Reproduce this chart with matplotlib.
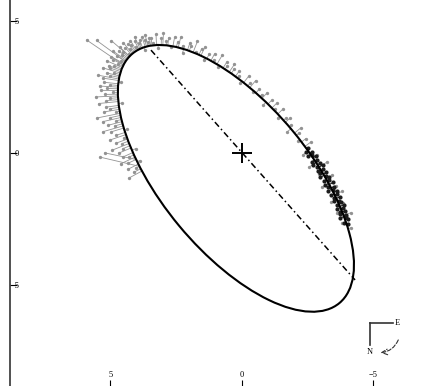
import numpy as np
import matplotlib.pyplot as plt
from matplotlib.patches import Ellipse

# apparent orbit on the sky (x grows to the left)
orbit_center = (0.23, -0.96)
orbit_a = 6.15
orbit_b = 2.81
orbit_angle = 50.2

# line of nodes, both ends on the orbit
node_x = [3.46, -4.30]
node_y = [3.90, -4.81]

# older measurements: place on the orbit (deg) and offset along the normal
obs_t = [-66, -65, -64, -63, -62, -61, -60, -59, -58, -57,
         -56, -55, -54, -53, -52, -51, -50, -49, -48, -47,
         -46, -45, -44, -43, -42, -41, -40, -39, -38, -37,
         -36, -35, -34, -33, -32, -31, -30, -29, -28, -27,
         -26, -25, -24, -23, -22, -21, -20, -19, -18, -17, -16,
         -15, -14, -13, -12, -11, -10, -9, -8, -7, -6,
         -5, -4, -3, -2, -1, 0, 1, 2, 3, 4,
         5, 6, 7, 8, 9, 10, 11, 12, 13, 14, 15,
         16, 17, 19, 20, 22, 23, 25, 26, 28, 29,
         31, 32, 34, 35, 37, 38, 40, 41, 43, 44,
         46, 47, 49, 50, 52, 53, 55, 56, 58, 59,
         61, 62, 64, 65, 67, 68, 70, 71, 73, 74,
         76, 77, 79, 80, 82, 83, 85, 86, 88, 89,
         91, 92, 94, 95,
         97, 99, 102, 104, 106, 108, 111, 113, 115, 118,
         120, 122, 125, 127, 130, 133]
obs_dn = [0.55, 0.3, 0.15, 0.45, -0.1, 0.35, 0.6, 0.2, 0.4, -0.15,
          0.5, 0.3, 0.7, 0.25, 0.45, 0.1, 0.65, 0.35, -0.1, 0.5,
          0.8, 0.3, 0.55, 0.2, 0.7, 0.4, 0.9, 0.15, 0.6, 0.35,
          0.5, -0.15, 0.75, 0.45, 0.3, 0.85, 0.5, 0.2, 0.65, 0.4,
          0.7, 0.3, 0.55, -0.1, 0.6, 0.8, 0.35, 0.5, 0.25, 0.7, 0.45,
          0.5, 0.3, 0.65, 0.2, 0.45, 0.55, 0.15, 0.4, 0.6, 0.25,
          0.45, 0.3, 0.5, 0.1, 0.35, 0.55, 0.2, 0.4, 0.3, 0.45,
          0.15, 0.35, 0.5, 0.2, 0.3, -0.1, 0.4, 0.25, 0.45, 0.15, 0.3,
          0.3, 0.1, 0.4, -0.1, 0.25, 0.45, 0.15, 0.3, -0.05, 0.35,
          0.2, 0.4, 0.1, -0.15, 0.3, 0.2, 0.45, 0.05, 0.25, 0.35,
          -0.1, 0.2, 0.3, 0.1, 0.4, -0.05, 0.25, 0.15, 0.35, 0.2,
          0.25, 0.1, -0.1, 0.3, 0.15, 0.35, -0.05, 0.2, 0.1, 0.3,
          -0.15, 0.2, 0.25, 0.05, 0.3, -0.1, 0.15, 0.25, 0.1, -0.2,
          0.3, 0.15, -0.1, 0.2,
          0.3, -0.25, 0.2, -0.3, 0.35, -0.15, 0.25, -0.3, 0.2, 0.3,
          -0.25, 0.15, -0.2, 0.3, -0.15, 0.1]

# the few far-off older measurements (offset in x, y)
far_t = [-64, -61, -11, -8, -3]
far_dx = [1.5, 1.2, 1.4, 1.1, 0.7]
far_dy = [0.35, 0.25, 0.95, 0.8, 0.6]

# recent measurements, the dark clump on the right side
new_t = [98, 99, 100, 100.5, 101, 102, 103, 103.5, 104, 105,
         105.5, 106, 107, 107.5, 108, 109, 109.5, 110, 111, 111.5,
         112, 113, 113.5, 114, 115, 115.5, 116, 117, 117.5, 118,
         119, 119.5, 120, 121, 121.5, 122, 123, 123.5, 124, 125,
         125.5, 126, 127, 127.5, 128, 129, 130, 131]
new_dn = [0.05, -0.08, 0.1, -0.12, 0.03, 0.14, -0.1, 0.07, -0.15, 0.12,
          -0.05, 0.16, -0.13, 0.08, -0.09, 0.13, -0.16, 0.06, 0.15, -0.11,
          0.09, -0.14, 0.17, -0.07, 0.11, -0.15, 0.04, 0.14, -0.12, 0.1,
          -0.08, 0.15, -0.13, 0.06, 0.12, -0.1, 0.16, -0.14, 0.08, -0.06,
          0.13, -0.11, 0.09, -0.15, 0.07, 0.1, -0.08, 0.05]

x_ticks = [5, 0, -5]
y_ticks = [5, 0, -5]


def on_orbit(t_deg):
    t = np.radians(np.asarray(t_deg, dtype=float))
    th = np.radians(orbit_angle)
    u = orbit_a * np.cos(t)
    v = orbit_b * np.sin(t)
    x = orbit_center[0] + u * np.cos(th) - v * np.sin(th)
    y = orbit_center[1] + u * np.sin(th) + v * np.cos(th)
    # outward normal
    nu = orbit_b * np.cos(t)
    nv = orbit_a * np.sin(t)
    n = np.hypot(nu, nv)
    nx = (nu * np.cos(th) - nv * np.sin(th)) / n
    ny = (nu * np.sin(th) + nv * np.cos(th)) / n
    return x, y, nx, ny


def draw_residuals(ax, mx, my, ox, oy, color, ms, lw):
    for x0, y0, x1, y1 in zip(mx, my, ox, oy):
        ax.plot([x0, x1], [y0, y1], color=color, lw=lw, zorder=2)
    ax.plot(ox, oy, 'o', color=color, ms=ms, mew=0, zorder=2)


plt.rcParams['font.family'] = 'Liberation Serif'

fig = plt.figure(figsize=(4.3, 3.86), dpi=100)
ax = fig.add_axes([9.5 / 430, 0, 1 - 9.5 / 430, 1])
ax.set_xlim(8.84, -7.15)
ax.set_ylim(-8.83, 5.80)

mx, my, nx, ny = on_orbit(obs_t)
dn = np.array(obs_dn)
draw_residuals(ax, mx, my, mx + dn * nx, my + dn * ny, '#939393', 2.4, 0.6)

fx, fy, _, _ = on_orbit(far_t)
draw_residuals(ax, fx, fy, fx + np.array(far_dx), fy + np.array(far_dy), '#939393', 2.4, 0.6)

mx, my, nx, ny = on_orbit(new_t)
dn = np.array(new_dn)
draw_residuals(ax, mx, my, mx + dn * nx, my + dn * ny, '#1c1c1c', 3.0, 0.8)

ax.add_patch(Ellipse(orbit_center, 2 * orbit_a, 2 * orbit_b, angle=orbit_angle,
                     fill=False, ec='black', lw=1.5, zorder=3))
ax.plot(node_x, node_y, color='black', lw=1.1, dashes=(4, 2, 1, 2), zorder=3)
ax.plot([0], [0], '+', color='black', ms=15, mew=1.4, zorder=4)

# compass
ax.plot([0.857, 0.913], [0.162, 0.162], transform=ax.transAxes, color='#333333', lw=1.2)
ax.plot([0.857, 0.857], [0.162, 0.106], transform=ax.transAxes, color='#333333', lw=1.2)
ax.text(0.923, 0.162, 'E', transform=ax.transAxes, fontsize=6, ha='center', va='center')
ax.text(0.856, 0.087, 'N', transform=ax.transAxes, fontsize=6, ha='center', va='center')
ax.annotate('', xy=(0.876, 0.086), xytext=(0.927, 0.126), xycoords='axes fraction',
            arrowprops=dict(arrowstyle='->', connectionstyle='arc3,rad=-0.35',
                            linestyle='--', lw=0.8, color='#333333'))

for side in ['top', 'right', 'bottom']:
    ax.spines[side].set_visible(False)
ax.spines['left'].set_linewidth(1.2)
ax.spines['left'].set_color('#333333')

ax.set_xticks(x_ticks)
ax.set_yticks(y_ticks)
ax.tick_params(axis='x', direction='in', length=4, width=0.8, pad=-10.5, labelsize=6)
ax.tick_params(axis='y', direction='in', length=5, width=0.8, pad=-7, labelsize=6)

fig.savefig('out.png', dpi=100)
